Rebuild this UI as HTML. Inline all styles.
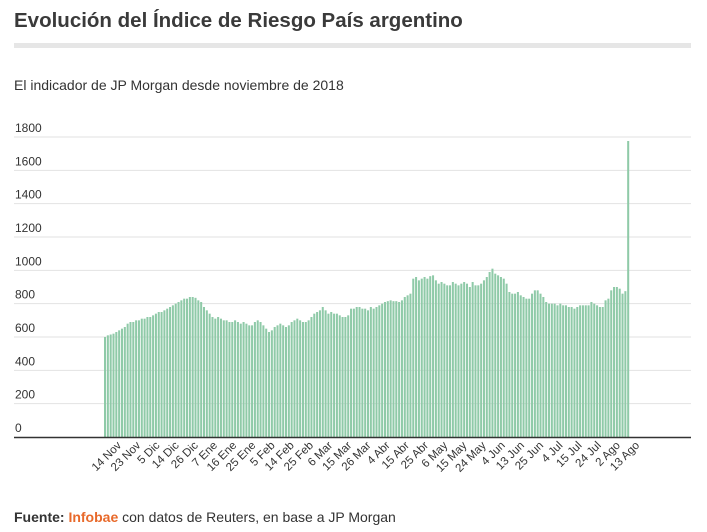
<!DOCTYPE html>
<html><head><meta charset="utf-8"><style>
body{margin:0;background:#fff;width:707px;height:532px;overflow:hidden;font-family:"Liberation Sans",sans-serif;}
svg{position:absolute;left:0;top:0}
</style></head><body>
<svg width="707" height="532">
<text x="14" y="27" font-size="20.5" font-weight="bold" fill="#3a3a3a">Evolución del Índice de Riesgo País argentino</text>
<rect x="14" y="43" width="677" height="5" fill="#e6e6e6"/>
<text x="14" y="90" font-size="14" fill="#333">El indicador de JP Morgan desde noviembre de 2018</text>
<g id="grid"></g>
<g id="bars"></g>
<line x1="14" x2="691" y1="437.5" y2="437.5" stroke="#333" stroke-width="1.5"/>
<g id="xlabels"></g>
<text x="14" y="522" font-size="14" fill="#333"><tspan font-weight="bold">Fuente: </tspan><tspan font-weight="bold" fill="#e8692a">Infobae</tspan> con datos de Reuters, en base a JP Morgan</text>
</svg>
<script>
const yTicks=[0,200,400,600,800,1000,1200,1400,1600,1800];
const xTickLabels=["14 Nov","23 Nov","5 Dic","14 Dic","26 Dic","7 Ene","16 Ene","25 Ene","5 Feb","14 Feb","25 Feb","6 Mar","15 Mar","26 Mar","4 Abr","15 Abr","25 Abr","6 May","15 May","24 May","4 Jun","13 Jun","25 Jun","4 Jul","15 Jul","24 Jul","2 Ago","13 Ago"];
const riskValues=[600,610,615,620,630,640,650,660,680,690,690,700,700,710,710,720,720,730,740,750,750,760,770,780,790,800,810,820,830,830,840,840,835,820,810,780,760,740,720,710,720,710,700,700,690,690,700,690,680,690,680,670,670,690,700,690,670,650,630,640,660,670,680,670,660,670,690,700,710,700,690,690,700,720,740,750,760,780,760,740,750,740,740,730,720,720,730,770,770,780,780,770,770,760,780,770,780,790,800,810,815,820,815,815,810,820,840,850,860,950,960,940,950,960,950,965,970,940,920,930,920,910,910,930,920,910,920,930,920,900,930,910,910,920,940,960,990,1010,980,970,960,950,920,870,860,860,870,850,840,830,830,860,880,880,860,840,810,800,800,800,790,800,790,790,780,780,770,780,790,790,790,790,810,800,790,780,780,820,830,880,900,900,890,860,875,1776];
const NS="http://www.w3.org/2000/svg";
const y0=437,yScale=v=>y0-v*(300/1800);
const xL=104,xR=630,bw=(xR-xL)/riskValues.length;
const xScale=i=>xL+i*bw;
const grid=document.getElementById('grid');
yTicks.forEach(t=>{
 if(t>0){const l=document.createElementNS(NS,'line');
 l.setAttribute('x1',14);l.setAttribute('x2',691);l.setAttribute('y1',yScale(t));l.setAttribute('y2',yScale(t));
 l.setAttribute('stroke','#e2e2e2');l.setAttribute('stroke-width','1');
 
 
 grid.appendChild(l);}
 const tx=document.createElementNS(NS,'text');
 tx.setAttribute('x',15);tx.setAttribute('y',yScale(t)-5);tx.setAttribute('font-size','12');tx.setAttribute('fill','#333');
 tx.textContent=t;
 
 
 grid.appendChild(tx);
});
const bars=document.getElementById('bars');
riskValues.forEach((v,i)=>{
 const r=document.createElementNS(NS,'rect');
 r.setAttribute('x',xScale(i));r.setAttribute('width',bw-0.8);
 r.setAttribute('y',yScale(v));r.setAttribute('height',y0-yScale(v));
 r.setAttribute('fill','#8fcaa8');
 
 
 bars.appendChild(r);
});
const xl=document.getElementById('xlabels');
const lx0=122,lx1=640;
xTickLabels.forEach((s,i)=>{
 const x=lx0+i*(lx1-lx0)/(xTickLabels.length-1);
 const t=document.createElementNS(NS,'text');
 t.setAttribute('transform','translate('+x+',446) rotate(-45)');
 t.setAttribute('text-anchor','end');t.setAttribute('font-size','11.5');t.setAttribute('fill','#333');
 t.textContent=s;
 
 
 xl.appendChild(t);
});
</script>
</body></html>
